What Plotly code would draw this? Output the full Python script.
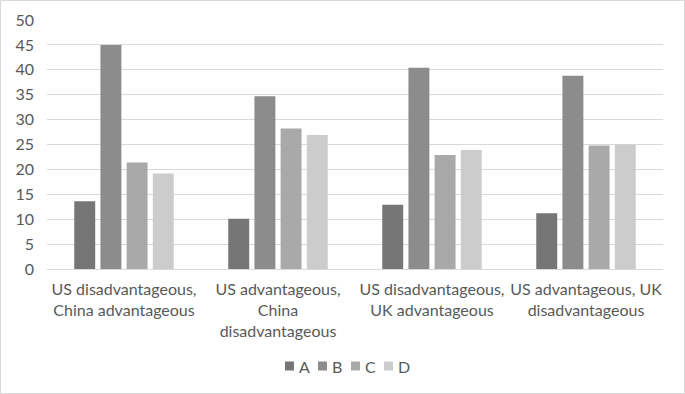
import plotly.graph_objects as go

categories = ["US disadvantageous,<br>China advantageous",
              "US advantageous,<br>China<br>disadvantageous",
              "US disadvantageous,<br>UK advantageous",
              "US advantageous, UK<br>disadvantageous"]
series_names = ["A", "B", "C", "D"]
A = [13.6, 10.1, 12.9, 11.2]
B = [45.0, 34.7, 40.4, 38.8]
C = [21.4, 28.2, 22.9, 24.8]
D = [19.2, 26.9, 23.9, 25.0]
colors = ["#767676", "#8c8c8c", "#a9a9a9", "#cccccc"]
y_ticks = [0, 5, 10, 15, 20, 25, 30, 35, 40, 45, 50]

W, H = 685, 394
ml, mr, mt, mb = 47, 22, 20, 125
pw, ph = W - ml - mr, H - mt - mb
FONT = "Lato, Open Sans, sans-serif"
TXT = "#595959"

fig = go.Figure()
for name, vals, col in zip(series_names, [A, B, C, D], colors):
    fig.add_trace(go.Bar(x=categories, y=vals, name=name, marker_color=col,
                         marker_line_width=0, showlegend=False))

def px_x(p):
    return (p - ml) / pw

def px_y(p):
    return (H - mb - p) / ph

shapes = [dict(type="rect", xref="paper", yref="paper",
               x0=px_x(0.5), x1=px_x(W - 0.5),
               y0=px_y(H - 0.5), y1=px_y(0.5),
               line=dict(color="#d9d9d9", width=1), layer="below")]
annotations = []
# custom compact legend
leg_x0, leg_step, leg_y = 285, 33, 366
for i, (name, col) in enumerate(zip(series_names, colors)):
    sx = leg_x0 + i * leg_step
    shapes.append(dict(type="rect", xref="paper", yref="paper",
                       x0=px_x(sx), x1=px_x(sx + 9),
                       y0=px_y(leg_y + 4.5), y1=px_y(leg_y - 4.5),
                       fillcolor=col, line=dict(width=0)))
    annotations.append(dict(xref="paper", yref="paper", x=px_x(sx + 12),
                            y=px_y(leg_y), text=name, showarrow=False,
                            xanchor="left", yanchor="middle",
                            font=dict(family=FONT, size=16, color=TXT)))

fig.update_layout(
    width=W, height=H,
    margin=dict(l=ml, r=mr, t=mt, b=mb, autoexpand=False),
    paper_bgcolor="white", plot_bgcolor="white",
    barmode="group", bargap=0.32, bargroupgap=0.2,
    font=dict(family=FONT, size=16, color=TXT),
    showlegend=False,
    xaxis=dict(showgrid=False, showline=True, linecolor="#d9d9d9", linewidth=1,
               ticks="", tickfont=dict(size=16, color=TXT), automargin=False,
               ticklabelstandoff=6),
    yaxis=dict(range=[0, 50], tickvals=y_ticks, showgrid=True, gridcolor="#d9d9d9",
               gridwidth=1, zeroline=False, ticks="", showline=False,
               ticklabelstandoff=12, automargin=False,
               tickfont=dict(size=16, color=TXT)),
    shapes=shapes,
    annotations=annotations,
)
fig.write_html("out.html", config={"displayModeBar": False},
               post_script="document.body.style.margin='0';")
